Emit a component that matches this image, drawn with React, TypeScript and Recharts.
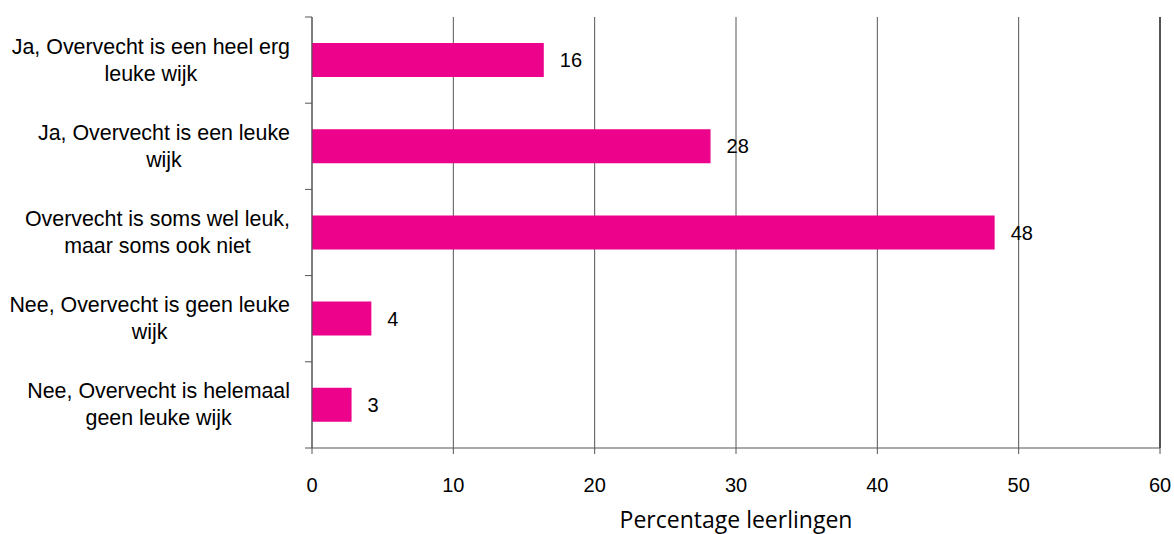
import * as React from 'react';
import {
  BarChart,
  Bar,
  XAxis,
  YAxis,
  CartesianGrid,
  LabelList,
  ReferenceLine,
} from 'recharts';

// Data
const categories: string[][] = [
  ['Ja, Overvecht is een heel erg', 'leuke wijk'],
  ['Ja, Overvecht is een leuke', 'wijk'],
  ['Overvecht is soms wel leuk,', 'maar soms ook niet'],
  ['Nee, Overvecht is geen leuke', 'wijk'],
  ['Nee, Overvecht is helemaal', 'geen leuke wijk'],
];
const percentages = [16.4, 28.2, 48.3, 4.2, 2.8];
const xTicks = [0, 10, 20, 30, 40, 50, 60];
const axisTitle = 'Percentage leerlingen';

const WIDTH = 1174;
const HEIGHT = 534;
const MARGIN = { top: 17, right: 14, bottom: 0, left: 0 };
const Y_AXIS_WIDTH = 312;
const X_AXIS_HEIGHT = 86;
const BAND = (HEIGHT - MARGIN.top - X_AXIS_HEIGHT) / categories.length;
const LABEL_RIGHT = 290;
const LABEL_SIZE = 21.4;
const FONT = '"Liberation Sans", Arial, sans-serif';
const BAR_COLOR = '#ED028C';

const data = categories.map((lines, i) => ({
  name: lines.join(' '),
  lines,
  value: percentages[i],
}));

let ctx: CanvasRenderingContext2D | null = null;
const measure = (text: string) => {
  if (!ctx) ctx = document.createElement('canvas').getContext('2d');
  if (!ctx) return text.length * 10;
  ctx.font = `${LABEL_SIZE}px ${FONT}`;
  return ctx.measureText(text).width;
};

const CategoryTick = (props: any) => {
  const { y, index } = props;
  const lines = categories[index] || [];
  const first = measure(lines[0] || '');
  const center = LABEL_RIGHT - first / 2;
  return (
    <g>
      <line x1={Y_AXIS_WIDTH - 7} x2={Y_AXIS_WIDTH} y1={y - BAND / 2} y2={y - BAND / 2} stroke="#555" />
      {index === categories.length - 1 && (
        <line x1={Y_AXIS_WIDTH - 7} x2={Y_AXIS_WIDTH} y1={y + BAND / 2} y2={y + BAND / 2} stroke="#555" />
      )}
      {lines.map((t, i) => (
        <text
          key={i}
          x={center}
          y={y + (i - (lines.length - 1) / 2) * 27}
          textAnchor="middle"
          dominantBaseline="central"
          fontFamily={FONT}
          fontSize={LABEL_SIZE}
          fill="#000"
        >
          {t}
        </text>
      ))}
    </g>
  );
};

export default function App() {
  return (
    <div style={{ position: 'absolute', left: 0, top: 0, background: '#fff' }}>
      <BarChart
        width={WIDTH}
        height={HEIGHT}
        data={data}
        layout="vertical"
        margin={MARGIN}
      >
        <CartesianGrid horizontal={false} vertical stroke="#555" />
        <XAxis
          type="number"
          domain={[0, 60]}
          ticks={xTicks}
          interval={0}
          height={X_AXIS_HEIGHT}
          stroke="#555"
          tickSize={6}
          tickMargin={24}
          tick={{ fill: '#000', fontSize: 20, fontFamily: FONT }}
          label={{
            value: axisTitle,
            position: 'insideBottom',
            offset: 6,
            fill: '#000',
            fontSize: 23,
            fontFamily: '"Open Sans", sans-serif',
          }}
        />
        <YAxis
          type="category"
          dataKey="name"
          width={Y_AXIS_WIDTH}
          stroke="#555"
          tickLine={false}
          interval={0}
          tick={<CategoryTick />}
        />
        <ReferenceLine x={60} stroke="#000" />
        <Bar dataKey="value" fill={BAR_COLOR} barSize={34} isAnimationActive={false}>
          <LabelList
            dataKey="value"
            position="right"
            offset={16}
            formatter={(v: any) => Math.round(Number(v))}
            fill="#000"
            fontSize={20}
            fontFamily={FONT}
          />
        </Bar>
      </BarChart>
    </div>
  );
}
